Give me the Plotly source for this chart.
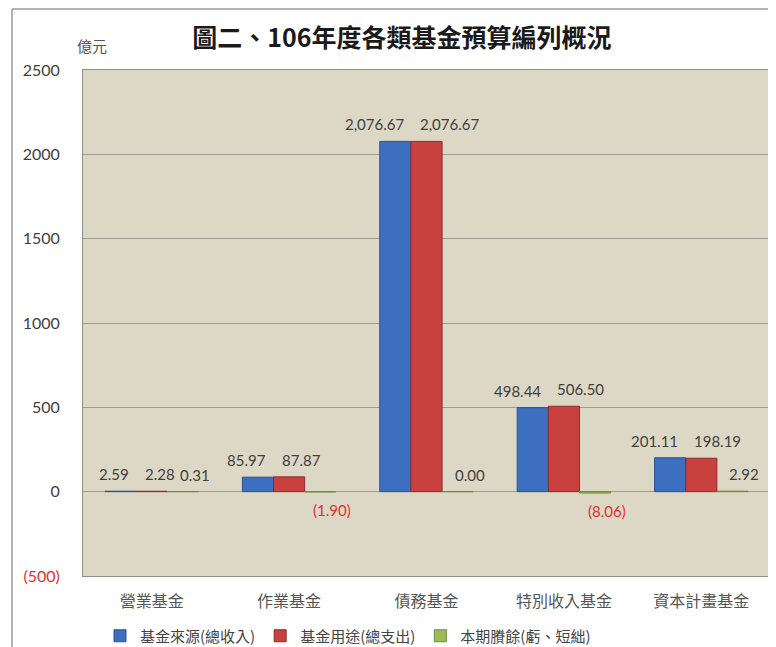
import plotly.graph_objects as go

categories = ["營業基金", "作業基金", "債務基金", "特別收入基金", "資本計畫基金"]
series_names = ["基金來源(總收入)", "基金用途(總支出)", "本期賸餘(虧、短絀)"]
source_vals = [2.59, 85.97, 2076.67, 498.44, 201.11]
use_vals = [2.28, 87.87, 2076.67, 506.50, 198.19]
surplus_vals = [0.31, -1.90, 0.00, -8.06, 2.92]
tick_vals = [-500, 0, 500, 1000, 1500, 2000, 2500]
tick_text = ["<span style='color:#e0302f'>(500)</span>", "0", "500", "1000", "1500", "2000", "2500"]

colors = ["#3d6fc0", "#c9413f", "#9bbb59"]
outlines = ["#2b5190", "#8e2b2a", "#6f8a3c"]
all_vals = [source_vals, use_vals, surplus_vals]
# label anchoring per series: (xanchor, xshift in px relative to category centre)
label_anchor = [("right", -21), ("left", -9), ("center", 43)]

# page has an 8px body margin, so the figure is 8px smaller than the window
W, H = 768, 639
L, R, T, B = 75, 6, 62, 71
plot_w = W - L - R
plot_h = H - T - B

fig = go.Figure()
for name, vals, c, oc in zip(series_names, all_vals, colors, outlines):
    fig.add_trace(go.Bar(
        x=categories, y=vals, name=name,
        marker=dict(color=c, line=dict(color=oc, width=1)),
    ))

num_family = "Lato, Open Sans, sans-serif"
annotations = []
for vals, (anc, xs) in zip(all_vals, label_anchor):
    for cat, v in zip(categories, vals):
        if v < 0:
            txt = "({:,.2f})".format(abs(v))
            annotations.append(dict(x=cat, y=v, xref="x", yref="y", text=txt, showarrow=False,
                                    xanchor=anc, xshift=xs, yshift=-18, yanchor="middle",
                                    font=dict(family=num_family, size=15, color="#e0302f")))
        else:
            txt = "{:,.2f}".format(v)
            annotations.append(dict(x=cat, y=v, xref="x", yref="y", text=txt, showarrow=False,
                                    xanchor=anc, xshift=xs, yshift=17, yanchor="middle",
                                    font=dict(family=num_family, size=15, color="#404040")))

annotations.append(dict(x=(67 - L) / plot_w, y=(H - B - 37) / plot_h, xref="paper", yref="paper",
                        text="億元", showarrow=False, xanchor="left", yanchor="middle",
                        font=dict(family="Noto Sans CJK TC", size=15, color="#555555")))

x_left = (4 - L) / plot_w
y_top = (H - B - 1) / plot_h

shapes = [
    dict(type="line", xref="paper", yref="paper", x0=x_left, x1=1.2, y0=y_top, y1=y_top,
         line=dict(color="#9a9a9a", width=1.5)),
    dict(type="line", xref="paper", yref="paper", x0=x_left, x1=x_left, y0=-0.3, y1=y_top,
         line=dict(color="#9a9a9a", width=1.5)),
]

fig.update_layout(
    width=W, height=H,
    margin=dict(l=L, r=R, t=T, b=B, autoexpand=False),
    paper_bgcolor="white",
    plot_bgcolor="#ddd8c5",
    barmode="group", bargap=0.32, bargroupgap=0,
    title=dict(text="<b>圖二、106年度各類基金預算編列概況</b>", x=394 / W, xanchor="center",
               y=1 - 30 / H, yanchor="middle",
               font=dict(family="Noto Sans CJK TC", size=25, color="#1a1a1a")),
    showlegend=True,
    legend=dict(orientation="h", x=(92 - L) / plot_w, xanchor="left",
                y=(H - B - 628) / plot_h, yanchor="middle",
                font=dict(family="Noto Sans CJK TC", size=15, color="#444444"),
                bgcolor="rgba(0,0,0,0)", tracegroupgap=0),
    annotations=annotations,
    shapes=shapes,
    xaxis=dict(showgrid=False, showline=True, linecolor="#8f8f8a", mirror=True,
               tickfont=dict(family="Noto Sans CJK TC", size=16, color="#555555"),
               ticks="", ticklabelstandoff=11),
    yaxis=dict(range=[-500, 2500], tickvals=tick_vals, ticktext=tick_text,
               showgrid=True, gridcolor="#9d9c95", gridwidth=1,
               zeroline=True, zerolinecolor="#9d9c95", zerolinewidth=1,
               showline=True, linecolor="#8f8f8a", mirror=True,
               tickfont=dict(family=num_family, size=16, color="#404040"),
               ticks="", ticklabelstandoff=19),
)

fig.write_html("out.html")
